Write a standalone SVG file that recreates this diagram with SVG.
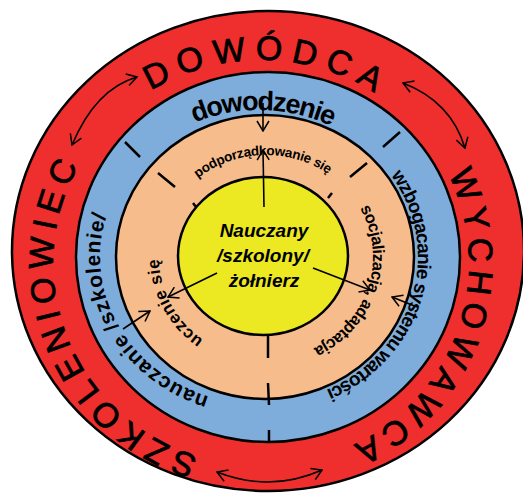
<svg xmlns="http://www.w3.org/2000/svg" width="523" height="497" viewBox="0 0 523 497">
<style>
.ring{stroke:#000;stroke-width:2.5}
.t{font-family:"Liberation Sans",Arial,sans-serif;fill:#000}
.big{font-size:34px;font-weight:normal;stroke:#000;stroke-width:0.8}
.sm{font-weight:bold}
.ctr{font-family:"Liberation Sans",Arial,sans-serif;font-size:19px;font-weight:bold;font-style:italic;text-anchor:middle}
.ln{fill:none;stroke:#000;stroke-width:1.6}
.tick{stroke:#000;stroke-width:2.5;fill:none}
</style>
<defs>
<marker id="ah" viewBox="0 0 12 14" refX="11" refY="7" markerWidth="12" markerHeight="14" orient="auto-start-reverse" markerUnits="userSpaceOnUse"><path d="M1,1 L11,7 L1,13" fill="none" stroke="#000" stroke-width="1.5"/></marker>
<path id="pDow" d="M67.9,187.6 A208,203 0 0 1 458.6,199.6"/>
<path id="pWyc" d="M378.8,95.7 A208,203 0 0 1 244.7,465.4"/>
<path id="pSzk" d="M282.4,464.9 A208,203 0 0 1 139,98.6"/>
<path id="pDowz" d="M111,203.4 A159,147 0 0 1 409.7,210.1"/>
<path id="pWzb" d="M326.2,123.8 A159,147 0 0 1 245.1,403.4"/>
<path id="pNau" d="M291.2,400.9 A159,147 0 0 1 153.2,147.2"/>
<path id="pPod" d="M160,243 A107,102 0 0 1 370.6,235.6"/>
<path id="pSoc" d="M314.6,166.1 A107,102 0 0 1 253,358.2"/>
<path id="pUcz" d="M278.7,358.3 A107,102 0 0 1 188,187.1"/>
</defs>

<g id="outer-ring">
<ellipse class="ring" cx="268" cy="251" rx="256" ry="240" fill="#EE2F2D"/>
<text class="t big" letter-spacing="9"><textPath href="#pDow" startOffset="50%" text-anchor="middle">DOWÓDCA</textPath></text>
<text class="t big" letter-spacing="6.4"><textPath href="#pWyc" startOffset="50%" text-anchor="middle">WYCHOWAWCA</textPath></text>
<text class="t big" letter-spacing="6.4"><textPath href="#pSzk" startOffset="50%" text-anchor="middle">SZKOLENIOWIEC</textPath></text>
</g>

<g id="blue-ring">
<ellipse class="ring" cx="268" cy="257" rx="192" ry="185" fill="#7EACDB"/>
<text class="t sm" font-size="27" letter-spacing="-1.5"><textPath href="#pDowz" startOffset="50%" text-anchor="middle">dowodzenie</textPath></text>
<text class="t sm" font-size="19" letter-spacing="-0.9"><textPath href="#pWzb" startOffset="50%" text-anchor="middle">wzbogacanie systemu wartości</textPath></text>
<text class="t sm" font-size="21" letter-spacing="0.9"><textPath href="#pNau" startOffset="50%" text-anchor="middle">nauczanie /szkolenie/</textPath></text>
</g>

<g id="peach-ring">
<ellipse class="ring" cx="265" cy="257" rx="149" ry="142" fill="#F7BC8C"/>
<text class="t sm" font-size="13.5" letter-spacing="-0.3"><textPath href="#pPod" startOffset="50%" text-anchor="middle">podporządkowanie się</textPath></text>
<text class="t sm" font-size="16.5" letter-spacing="-0.5"><textPath href="#pSoc" startOffset="50%" text-anchor="middle">socjalizacja, adaptacja</textPath></text>
<text class="t sm" font-size="17" letter-spacing="0.5"><textPath href="#pUcz" startOffset="50%" text-anchor="middle">uczenie się</textPath></text>
</g>

<g id="center">
<ellipse class="ring" cx="263" cy="256" rx="85" ry="79" fill="#ECE821"/>
<text class="ctr" x="264" y="237">Nauczany</text>
<text class="ctr" x="263" y="262">/szkolony/</text>
<text class="ctr" x="264" y="287">żołnierz</text>
</g>

<g id="separators">
<path class="tick" d="M125,142 L140,157 M383,147 L400,132 M158,173 L175,187 M350,177 L367,163 M193,203 L196,207 M328,198 L332,193 M268,336 L268,358 M268,383 L269,405 M269,430 L269,442"/>
</g>

<g id="connectors">
<path class="ln" d="M72,145 Q95.5,89 137,77" marker-start="url(#ah)" marker-end="url(#ah)"/>
<path class="ln" d="M403,83 Q451,101.5 465,148" marker-start="url(#ah)" marker-end="url(#ah)"/>
<path class="ln" d="M217,472 Q270.5,493 322,470" marker-start="url(#ah)" marker-end="url(#ah)"/>
<path class="ln" d="M263,103 L263,131" marker-end="url(#ah)"/>
<path class="ln" d="M264,207 L263,150" marker-end="url(#ah)"/>
<path class="ln" d="M217,273 L168,297" marker-end="url(#ah)"/>
<path class="ln" d="M123,329 L150,311" marker-end="url(#ah)"/>
<path class="ln" d="M313,268 L370,290" marker-end="url(#ah)"/>
<path class="ln" d="M417,307 L392,297" marker-end="url(#ah)"/>
</g>
</svg>
